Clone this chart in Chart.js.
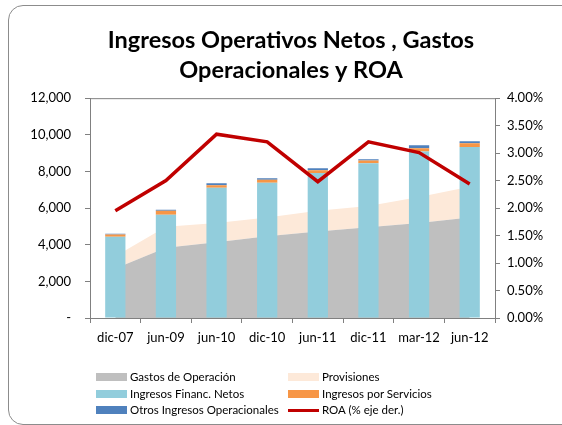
<!DOCTYPE html>
<html>
<head>
<meta charset="utf-8">
<script src="https://cdn.jsdelivr.net/npm/chart.js@4/dist/chart.umd.min.js"></script>
<style>
  body { margin: 0; background: #fff; }
  #wrap { position: relative; width: 562px; height: 425px; overflow: hidden; }
  #marco { position: absolute; left: 8px; top: 5px; width: 570px; height: 418px; border: 1px solid #8c8c8c; border-radius: 15px; }
  canvas { position: absolute; left: 0; top: 0; }
  .ley { position: absolute; font-family: Lato, "Open Sans", sans-serif; font-size: 11.5px; color: #000; line-height: 14px; white-space: nowrap; }
  .ley span { display: inline-block; vertical-align: middle; }
  .sw { width: 31px; height: 8px; margin-right: 3px; }
  .ln { width: 31px; height: 3px; margin-right: 3px; }
</style>
</head>
<body>
<div id="wrap">
  <div id="marco"></div>
  <canvas id="grafico" width="562" height="425"></canvas>
  <div id="leyenda"></div>
</div>
<script>
const periodos = ["dic-07", "jun-09", "jun-10", "dic-10", "jun-11", "dic-11", "mar-12", "jun-12"];

const gastosOperacion = [2700, 3830, 4140, 4460, 4720, 4950, 5190, 5490];
const provisiones = [670, 1150, 1040, 1030, 1130, 1160, 1410, 1680];
const ingresosFinanc = [4430, 5640, 7110, 7380, 7920, 8450, 9090, 9340];
const ingresosServicios = [130, 210, 140, 160, 150, 150, 180, 200];
const otrosIngresos = [40, 60, 110, 90, 110, 70, 160, 110];
const roa = [1.95, 2.50, 3.345, 3.205, 2.48, 3.205, 3.01, 2.44];

const colores = {
  gastos: "#BFBFBF",
  provisiones: "#FDE9D9",
  financ: "#92CDDC",
  servicios: "#F79646",
  otros: "#4F81BD",
  roa: "#C00000"
};

const fuente = "Lato, 'Open Sans', sans-serif";

// borde superior del area de grafico
const marcoArea = {
  id: "marcoArea",
  afterDraw(chart) {
    const { ctx, chartArea } = chart;
    ctx.save();
    ctx.strokeStyle = "#808080";
    ctx.lineWidth = 1;
    ctx.beginPath();
    ctx.moveTo(chartArea.left, chartArea.top + 0.5);
    ctx.lineTo(chartArea.right, chartArea.top + 0.5);
    ctx.stroke();
    ctx.restore();
  }
};

const ctx = document.getElementById("grafico").getContext("2d");
new Chart(ctx, {
  data: {
    labels: periodos,
    datasets: [
      { type: "line", label: "ROA (% eje der.)", data: roa, yAxisID: "y1", borderColor: colores.roa,
        borderWidth: 3.5, pointRadius: 0, tension: 0, fill: false, order: 1 },
      { type: "bar", label: "Ingresos Financ. Netos", data: ingresosFinanc, backgroundColor: colores.financ,
        stack: "barras", order: 2, barPercentage: 1, categoryPercentage: 0.4 },
      { type: "bar", label: "Ingresos por Servicios", data: ingresosServicios, backgroundColor: colores.servicios,
        stack: "barras", order: 2, barPercentage: 1, categoryPercentage: 0.4 },
      { type: "bar", label: "Otros Ingresos Operacionales", data: otrosIngresos, backgroundColor: colores.otros,
        stack: "barras", order: 2, barPercentage: 1, categoryPercentage: 0.4 },
      { type: "line", label: "Gastos de Operación", data: gastosOperacion, backgroundColor: colores.gastos,
        borderWidth: 0, pointRadius: 0, tension: 0, fill: "origin", stack: "area", order: 3 },
      { type: "line", label: "Provisiones", data: provisiones, backgroundColor: colores.provisiones,
        borderWidth: 0, pointRadius: 0, tension: 0, fill: "-1", stack: "area", order: 3 }
    ]
  },
  options: {
    responsive: false,
    animation: false,
    layout: { padding: { left: 20, right: 0, top: 0, bottom: 77 } },
    plugins: {
      legend: { display: false },
      tooltip: { enabled: false },
      title: {
        display: true,
        text: ["Ingresos Operativos Netos , Gastos", "Operacionales y ROA"],
        color: "#000",
        font: { family: fuente, size: 23.5, weight: "bold", lineHeight: 1.28 },
        padding: { top: 25, bottom: 13 }
      }
    },
    scales: {
      x: {
        stacked: true,
        border: { color: "#808080" },
        grid: { display: true, offset: true, drawOnChartArea: false, drawTicks: true, tickLength: 5, color: "#808080" },
        ticks: { color: "#000", padding: 7, font: { family: fuente, size: 13 }, maxRotation: 0 },
        afterFit: s => { s.height = 30; }
      },
      y: {
        stacked: true,
        position: "left",
        min: 0, max: 12000,
        border: { color: "#808080" },
        grid: { drawOnChartArea: false, tickLength: 5, color: "#808080" },
        ticks: {
          stepSize: 2000, color: "#000", padding: 14, font: { family: fuente, size: 13 },
          callback: v => v === 0 ? "-" : v.toLocaleString("en-US")
        },
        afterFit: s => { s.width = 70; }
      },
      y1: {
        position: "right",
        min: 0, max: 4,
        border: { color: "#808080" },
        grid: { drawOnChartArea: false, tickLength: 5, color: "#808080" },
        ticks: {
          stepSize: 0.5, color: "#000", padding: 7, font: { family: fuente, size: 13 },
          callback: v => v.toFixed(2) + "%"
        },
        afterFit: s => { s.width = 67; }
      }
    }
  },
  plugins: [marcoArea]
});

// leyenda en dos columnas
const itemsLeyenda = [
  ["Gastos de Operación", colores.gastos, "sw", 96, 369],
  ["Provisiones", colores.provisiones, "sw", 288, 369],
  ["Ingresos Financ. Netos", colores.financ, "sw", 96, 386],
  ["Ingresos por Servicios", colores.servicios, "sw", 288, 386],
  ["Otros Ingresos Operacionales", colores.otros, "sw", 96, 402],
  ["ROA (% eje der.)", colores.roa, "ln", 288, 402]
];
const leyenda = document.getElementById("leyenda");
itemsLeyenda.forEach(([texto, color, clase, x, y]) => {
  const d = document.createElement("div");
  d.className = "ley";
  d.style.left = x + "px";
  d.style.top = y + "px";
  d.innerHTML = `<span class="${clase}" style="background:${color}"></span><span>${texto}</span>`;
  leyenda.appendChild(d);
});
</script>
</body>
</html>
